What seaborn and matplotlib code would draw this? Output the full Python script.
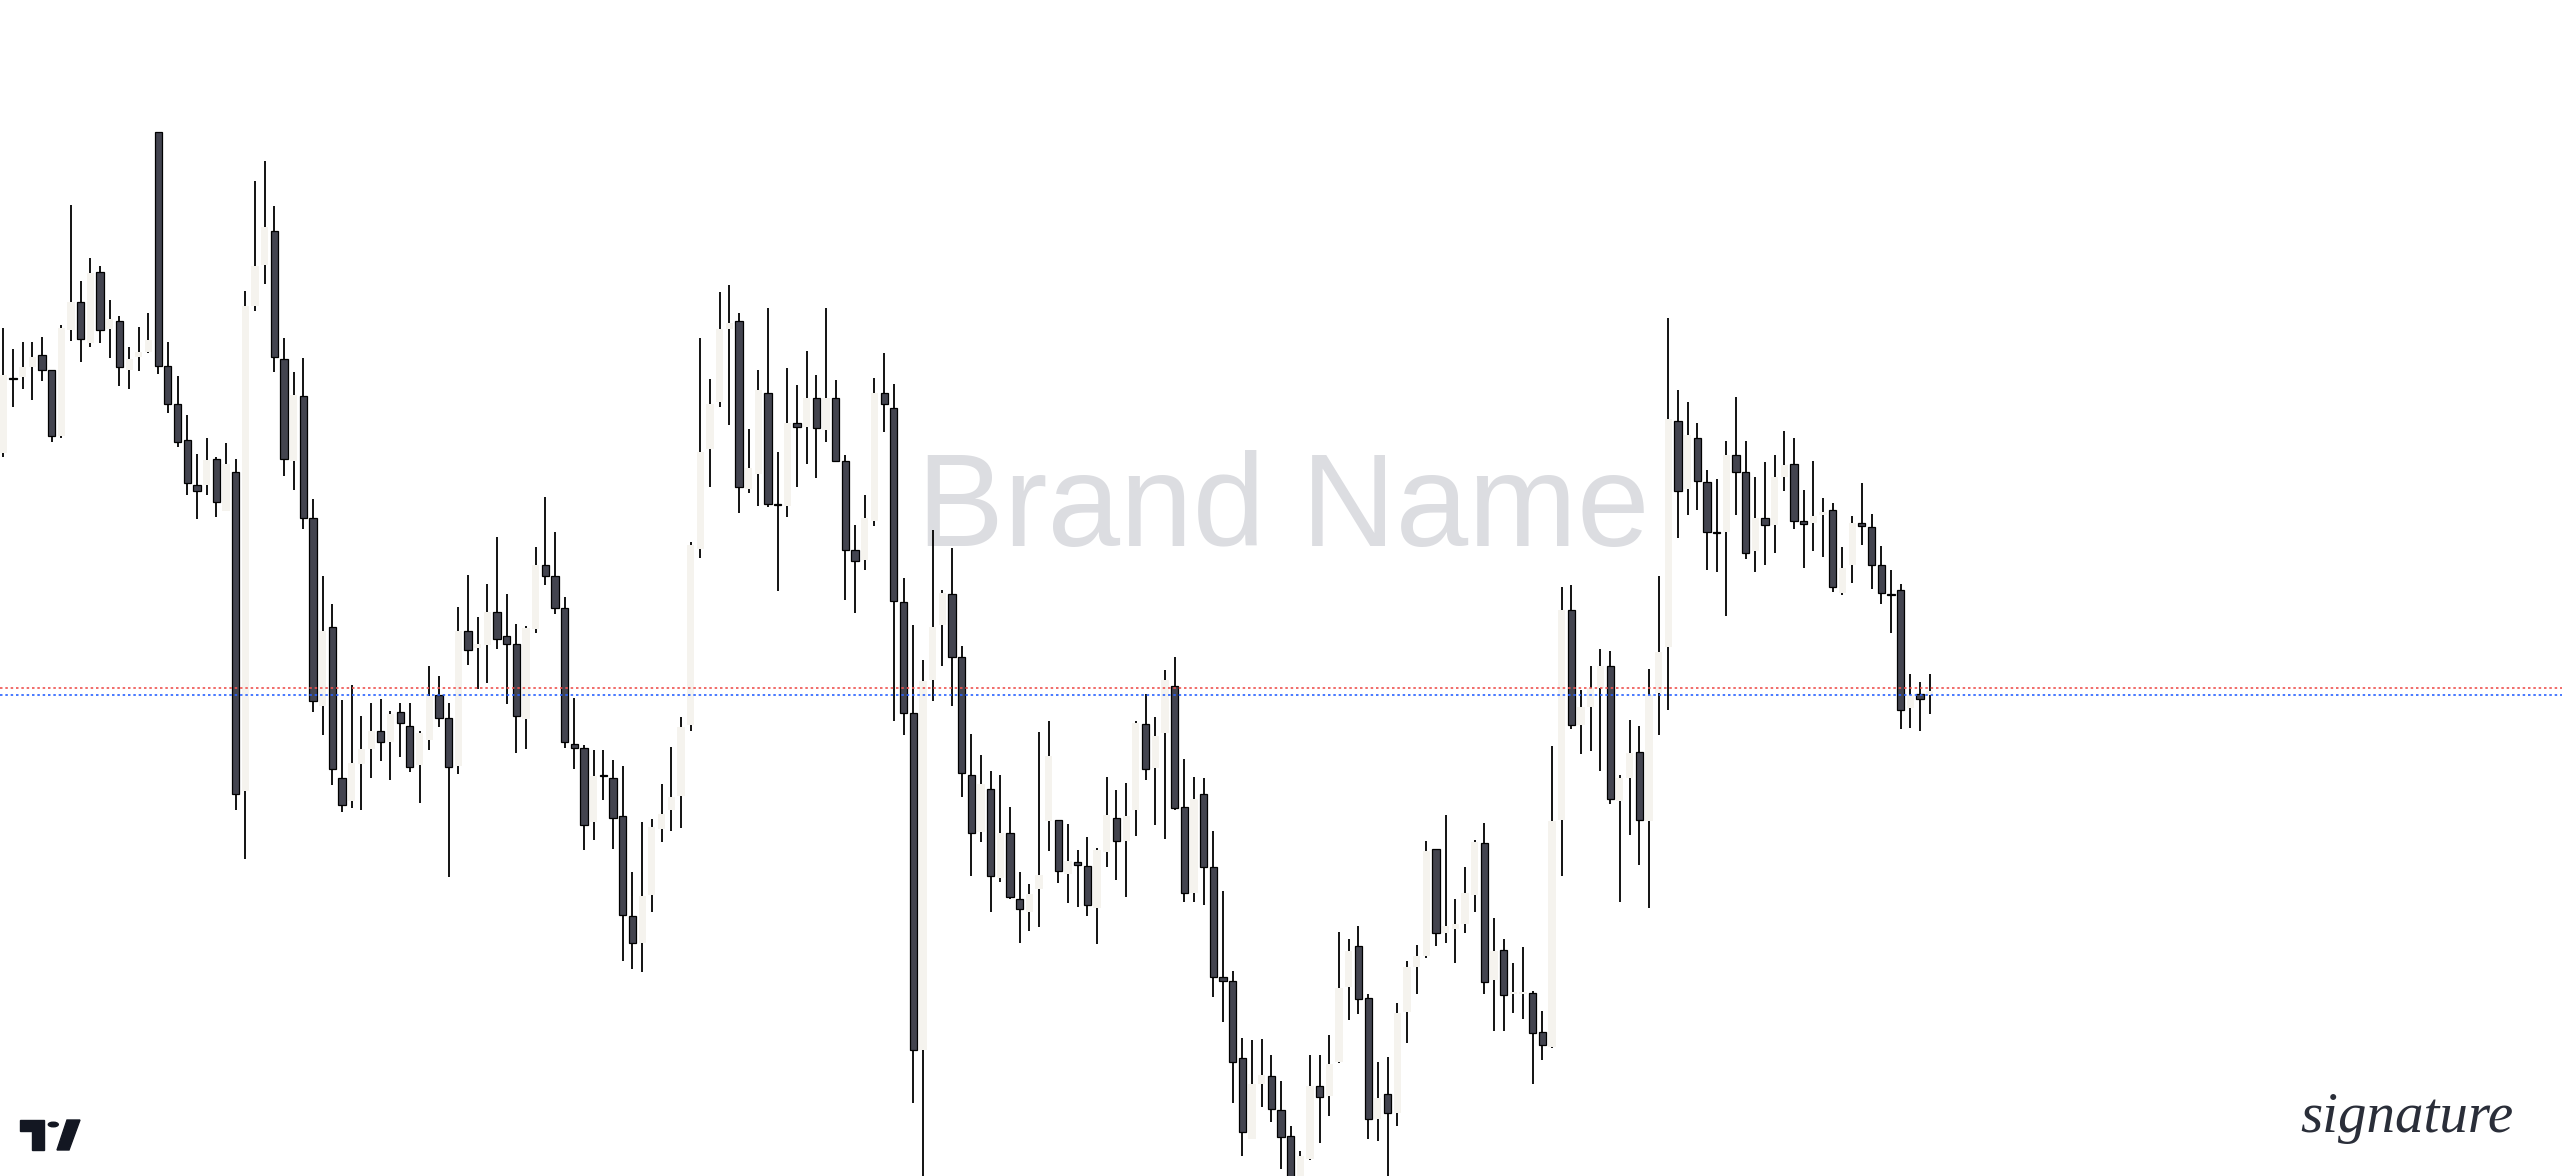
import numpy as np
import matplotlib
matplotlib.use("Agg")
import matplotlib.pyplot as plt
from matplotlib.patches import Polygon, Circle
import seaborn as sns

# OHLC (arbitrary price units), one candle per bar
open_ = [1063, 1174, 1175, 1190, 1207, 1186, 1089, 1245, 1285, 1225, 1330, 1246, 1257, 1185, 1204, 1212, 1536, 1192, 1135, 1082,
         1016, 1016, 1055, 978, 1036, 567, 1280, 1340, 1390, 1202, 1051, 1148, 968, 692, 807, 586, 551, 606, 628, 655,
         639, 682, 662, 604, 642, 708, 674, 603, 802, 776, 781, 830, 795, 782, 672, 805, 898, 882, 836, 635,
         629, 520, 590, 586, 530, 383, 342, 413, 511, 538, 559, 663, 923, 1069, 1138, 1246, 1257, 1010, 1032, 1152,
         989, 985, 1107, 1101, 1145, 1098, 1145, 1051, 921, 906, 963, 1152, 1130, 845, 681, 185, 730, 810, 856, 764,
         590, 506, 569, 438, 504, 408, 388, 422, 522, 524, 444, 462, 456, 394, 476, 526, 493, 538, 665, 600,
         652, 721, 543, 416, 562, 455, 293, 287, 173, 55, 136, 147, 97, 59, -3, 25, 133, 118, 168, 278,
         339, 262, 84, 121, 92, 241, 308, 323, 481, 358, 363, 370, 413, 490, 288, 333, 267, 268, 269, 212,
         190, 524, 833, 664, 690, 718, 750, 551, 585, 623, 522, 711, 778, 1110, 1010, 1086, 1021, 948, 947, 1060,
         1035, 920, 968, 958, 1028, 1048, 964, 960, 972, 979, 857, 898, 961, 954, 898, 856, 862, 688, 709, 708]

high = [1248, 1216, 1227, 1227, 1234, 1186, 1252, 1428, 1316, 1350, 1339, 1289, 1265, 1219, 1249, 1269, 1536, 1227, 1177, 1119,
        1062, 1086, 1058, 1078, 1055, 1302, 1464, 1493, 1427, 1233, 1183, 1203, 996, 883, 842, 700, 722, 677, 696, 702,
        684, 696, 696, 654, 750, 735, 696, 837, 884, 822, 871, 940, 856, 812, 809, 925, 999, 947, 852, 703,
        634, 627, 627, 612, 603, 447, 521, 525, 577, 631, 675, 932, 1233, 1172, 1300, 1311, 1269, 1099, 1186, 1277,
        1065, 1189, 1163, 1213, 1178, 1277, 1171, 1060, 958, 1002, 1174, 1211, 1165, 880, 811, 759, 950, 862, 924, 780,
        650, 619, 596, 590, 543, 447, 430, 653, 669, 524, 518, 479, 499, 482, 587, 568, 578, 669, 709, 675,
        744, 763, 613, 587, 585, 507, 419, 302, 203, 200, 202, 178, 140, 73, 37, 178, 178, 207, 359, 349,
        368, 267, 167, 175, 255, 316, 340, 493, 481, 531, 407, 455, 494, 519, 379, 349, 314, 337, 272, 243,
        633, 866, 869, 715, 750, 775, 772, 590, 671, 662, 746, 883, 1262, 1156, 1138, 1108, 1039, 1025, 1081, 1146,
        1081, 1028, 1050, 1061, 1096, 1086, 1009, 1052, 997, 990, 925, 971, 1019, 974, 927, 891, 871, 739, 727, 738]

low = [1058, 1131, 1157, 1142, 1169, 1079, 1085, 1228, 1197, 1220, 1226, 1203, 1162, 1157, 1184, 1210, 1179, 1122, 1072, 1001,
       967, 1001, 970, 978, 538, 466, 1272, 1312, 1182, 1029, 1009, 951, 682, 648, 575, 536, 541, 538, 585, 610,
       582, 617, 594, 548, 626, 661, 440, 592, 751, 716, 725, 775, 694, 622, 628, 799, 869, 826, 629, 598,
       479, 494, 553, 481, 316, 304, 300, 388, 492, 508, 512, 654, 909, 1013, 1131, 1105, 975, 1005, 985, 984,
       860, 969, 1013, 1048, 1026, 1079, 1051, 847, 828, 892, 956, 1094, 670, 648, 108, -5, 698, 750, 691, 557,
       442, 491, 389, 433, 408, 342, 361, 366, 478, 431, 401, 396, 383, 341, 454, 435, 411, 500, 583, 516,
       495, 538, 403, 403, 398, 263, 226, 108, 30, 55, 101, 80, 11, -6, -6, 23, 48, 88, 166, 230,
       238, 55, 52, 0, 73, 195, 268, 320, 338, 342, 313, 358, 388, 267, 214, 214, 240, 231, 136, 170,
       188, 442, 657, 620, 625, 595, 547, 403, 501, 458, 394, 648, 686, 938, 973, 979, 892, 888, 823, 973,
       908, 888, 898, 916, 1008, 951, 894, 919, 911, 859, 854, 872, 928, 864, 841, 798, 658, 659, 654, 680]

close = [1178, 1172, 1190, 1205, 1185, 1089, 1248, 1285, 1231, 1328, 1245, 1260, 1190, 1202, 1212, 1230, 1192, 1136, 1079, 1020,
         1008, 1053, 991, 1047, 562, 1279, 1339, 1396, 1204, 1055, 1149, 968, 698, 802, 598, 546, 607, 628, 655, 639,
         680, 667, 601, 652, 706, 673, 601, 802, 773, 783, 829, 790, 782, 676, 806, 899, 882, 836, 639, 630,
         517, 588, 588, 526, 384, 343, 412, 513, 532, 558, 660, 928, 1065, 1136, 1246, 1254, 1013, 1041, 1156, 988,
         987, 1107, 1102, 1144, 1100, 1144, 1051, 921, 905, 968, 1152, 1136, 846, 681, 186, 728, 808, 858, 764, 593,
         505, 577, 442, 505, 411, 392, 415, 443, 618, 448, 463, 457, 398, 479, 531, 493, 530, 666, 599, 647,
         730, 541, 417, 555, 455, 293, 287, 168, 65, 135, 148, 99, 58, -2, 29, 133, 116, 165, 276, 331,
         261, 84, 115, 93, 240, 307, 323, 478, 358, 368, 371, 416, 491, 286, 331, 266, 271, 271, 211, 193,
         522, 833, 663, 690, 718, 750, 555, 585, 622, 523, 708, 771, 1114, 1007, 1090, 1023, 948, 946, 1061, 1036,
         917, 968, 958, 1028, 1046, 963, 959, 971, 976, 866, 894, 961, 956, 898, 858, 854, 686, 708, 702, 713]

last_price = 708      # blue dotted line
prev_close = 718      # red dotted line

brand = "Brand Name"
signature = "signature"

UP_COLOR = "#f5f3ee"
DOWN_COLOR = "#43444f"
WICK_COLOR = "#000000"

sns.set_theme(style="white")
plt.rcParams["font.family"] = ["Liberation Sans", "DejaVu Sans"]

o = np.array(open_, dtype=float)
h = np.array(high, dtype=float)
l = np.array(low, dtype=float)
c = np.array(close, dtype=float)
x = np.arange(len(o))
up = c >= o

fig = plt.figure(figsize=(25.62, 11.76), dpi=100)
ax = fig.add_axes([0, 0, 1, 1])
ax.set_xlim(-0.34, 264.33)
ax.set_ylim(0, 1729.8)
ax.axis("off")

# watermark behind everything
ax.text(1283 / 2562, 1 - 546 / 1176, brand, transform=ax.transAxes,
        ha="center", va="baseline", fontsize=94, color="#dcdde1",
        family="Liberation Sans", zorder=0)

# wicks
ax.vlines(x, l, h, color=WICK_COLOR, linewidth=1.3, zorder=2)

# bodies
body_lo = np.minimum(o, c)
body_h = np.maximum(np.abs(c - o), 1.5)
ax.bar(x[up], body_h[up], bottom=body_lo[up], width=0.75,
       color=UP_COLOR, edgecolor="none", linewidth=0, zorder=3)
ax.bar(x[~up], body_h[~up], bottom=body_lo[~up], width=0.75,
       color=DOWN_COLOR, edgecolor="black", linewidth=0.9, zorder=3)

# price lines
ax.axhline(prev_close, color="#ef5350", linewidth=1.2, linestyle=(0, (1.5, 1.7)), zorder=5)
ax.axhline(last_price, color="#2962ff", linewidth=1.2, linestyle=(0, (1.5, 1.7)), zorder=5)

# signature bottom right
ax.text(2407 / 2562, 1 - 1132 / 1176, signature, transform=ax.transAxes,
        ha="center", va="baseline", fontsize=41, style="italic",
        family="Liberation Serif", color="#2a2e39", zorder=6)

# small logo bottom left (pixel coords -> axes fraction)
def px(pts):
    return [(a / 2562, 1 - b / 1176) for a, b in pts]

logo_color = "#131722"
ax.add_patch(Polygon(px([(20, 1120), (44, 1120), (44, 1150), (32, 1150), (32, 1131), (20, 1131)]),
                     closed=True, transform=ax.transAxes, color=logo_color, zorder=6))
ax.add_patch(Polygon(px([(67, 1120), (80, 1120), (69, 1150), (57, 1150)]),
                     closed=True, transform=ax.transAxes, color=logo_color, zorder=6))
ax.add_patch(Circle((53.3 / 2562, 1 - 1124.5 / 1176), 5 / 2562, transform=ax.transAxes,
                    color=logo_color, zorder=6))

fig.savefig("out.png", dpi=100, facecolor="white")
